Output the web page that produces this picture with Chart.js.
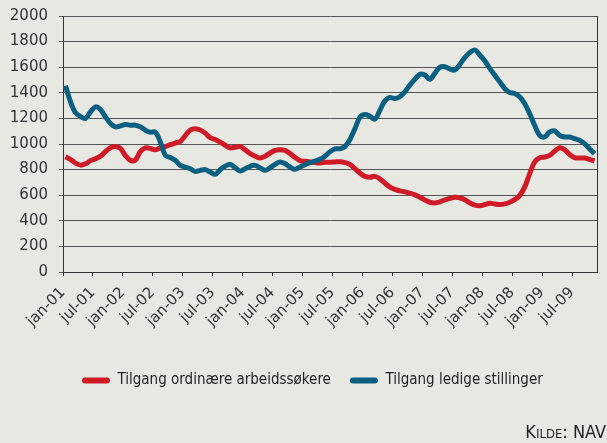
<!DOCTYPE html>
<html><head><meta charset="utf-8">
<script src="https://cdn.jsdelivr.net/npm/chart.js@4.4.1/dist/chart.umd.min.js"></script>
<style>
html,body{margin:0;padding:0;background:#e8e8e3;}
#wrap{position:relative;width:607px;height:443px;overflow:hidden;}
#src{position:absolute;right:1px;top:422px;font-size:18px;font-family:'DejaVu Sans Condensed','Liberation Sans Narrow',sans-serif;font-variant:small-caps;color:#222;line-height:20px;white-space:nowrap;}
</style></head><body>
<div id="wrap"><canvas id="c" width="607" height="443"></canvas><div id="src">Kilde: NAV</div></div>
<script>
// ---- data ----
const monthNames = ['jan','feb','mar','apr','mai','jun','jul','aug','sep','okt','nov','des'];
const years = ['01','02','03','04','05','06','07','08','09'];
const tickLabels = ['jan-01','jul-01','jan-02','jul-02','jan-03','jul-03','jan-04','jul-04','jan-05','jul-05','jan-06','jul-06','jan-07','jul-07','jan-08','jul-08','jan-09','jul-09'];
const seriesNames = ['Tilgang ordinære arbeidssøkere','Tilgang ledige stillinger'];
const arbeidssokere = [
  900,880,850,835,845,870,885,905,940,970,980,965,
  910,872,875,940,970,965,955,970,980,995,1008,1020,
  1065,1110,1120,1110,1085,1050,1035,1015,990,970,975,980,
  955,925,905,890,905,930,950,955,950,925,895,870,
  865,860,855,852,857,858,860,862,855,840,807,773,
  747,741,747,728,694,663,645,634,626,616,603,584,
  563,545,540,548,563,575,584,580,565,540,522,517,
  527,537,532,527,532,545,566,597,663,767,859,893,
  898,911,943,971,956,919,893,890,890,880,867
];
const ledigeStillinger = [
  1455,1330,1245,1215,1200,1250,1290,1270,1212,1160,1134,1142,
  1152,1147,1147,1134,1108,1092,1092,1016,912,894,873,833,
  820,807,786,794,800,781,763,800,826,841,815,789,
  807,826,833,813,794,815,841,860,846,820,802,820,
  839,854,866,880,905,940,962,963,980,1035,1120,1210,
  1230,1217,1194,1264,1337,1363,1355,1369,1408,1460,1505,1544,
  1539,1505,1552,1599,1604,1586,1578,1620,1675,1714,1735,1695,
  1651,1591,1539,1486,1434,1403,1395,1369,1316,1238,1147,1068,
  1055,1094,1102,1068,1055,1055,1042,1029,1003,963,924
];
const categories = [];
years.forEach(y => monthNames.forEach(m => categories.push(m + '-' + y)));
categories.length = arbeidssokere.length;

const red = '#cf1b27', blue = '#0b5f80';
const pts = arr => arr.map((v, i) => ({x: i, y: v}));

const frame = {
  id: 'frame',
  beforeDatasetsDraw(chart) {
    const {ctx, chartArea: a} = chart;
    ctx.save();
    ctx.strokeStyle = '#333'; ctx.lineWidth = 1;
    ctx.beginPath();
    const x = Math.round(a.right) + 0.5;
    ctx.moveTo(x, a.top); ctx.lineTo(x, a.bottom);
    ctx.stroke();
    ctx.restore();
  },
  afterLayout(chart) {
    const lg = chart.legend;
    const w = lg.right - lg.left;
    lg.left = 63; lg.right = 63 + w;
  }
};

new Chart(document.getElementById('c'), {
  type: 'line',
  data: {
    datasets: [
      {label: seriesNames[0], data: pts(arbeidssokere), borderColor: red, backgroundColor: red, borderWidth: 5, pointRadius: 0, tension: 0.35, order: 1},
      {label: seriesNames[1], data: pts(ledigeStillinger), borderColor: blue, backgroundColor: blue, borderWidth: 5, pointRadius: 0, tension: 0.35, order: 0}
    ]
  },
  options: {
    responsive: false,
    animation: false,
    layout: {padding: {left: 0, right: 10, top: 16, bottom: 45}},
    scales: {
      x: {
        type: 'linear',
        min: -0.5, max: categories.length - 0.5,
        afterBuildTicks: s => { s.ticks = tickLabels.map((t, k) => ({value: k * 6 - 0.5})); },
        afterFit: s => { s.height = 82; s.paddingLeft = 0; s.paddingRight = 0; },
        ticks: {
          autoSkip: false, minRotation: 45, maxRotation: 45, padding: 8,
          color: '#333', font: {family: 'DejaVu Sans', size: 15},
          callback: v => tickLabels[Math.round((v + 0.5) / 6)]
        },
        grid: {drawOnChartArea: false, drawTicks: true, tickLength: 4, color: '#333'},
        border: {display: true, color: '#333', width: 1}
      },
      y: {
        min: 0, max: 2000,
        afterFit: s => { s.width = 63; s.paddingTop = 0; s.paddingBottom = 0; },
        ticks: {stepSize: 200, padding: 11, color: '#333', font: {family: 'DejaVu Sans', size: 15},
          callback: v => String(v)},
        grid: {color: '#555', lineWidth: 1, tickLength: 4},
        border: {display: true, color: '#333', width: 1}
      }
    },
    plugins: {
      tooltip: {enabled: false},
      legend: {
        position: 'bottom',
        align: 'start',
        labels: {
          boxWidth: 28, boxHeight: 6, padding: 19, color: '#222',
          useBorderRadius: true, borderRadius: 3,
          font: {family: "'DejaVu Sans Condensed', 'Liberation Sans Narrow', sans-serif", size: 15},
          sort: (a, b) => a.datasetIndex - b.datasetIndex,
          generateLabels: chart => Chart.defaults.plugins.legend.labels.generateLabels(chart).map(l => Object.assign(l, {lineWidth: 0, fillStyle: l.strokeStyle}))
        }
      }
    }
  },
  plugins: [frame]
});
</script>
</body></html>
